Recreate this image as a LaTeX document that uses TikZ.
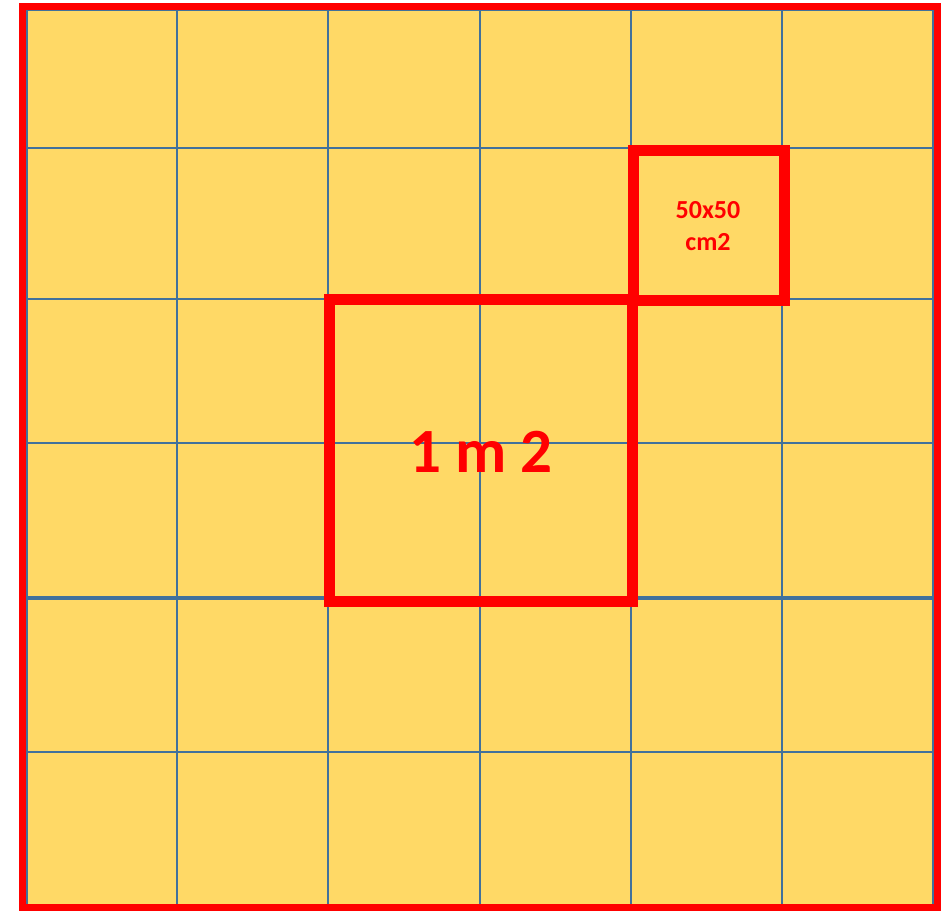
\documentclass[tikz,border=0pt]{standalone}
\usepackage{fontspec}
\setmainfont{Carlito}
\definecolor{cellfill}{HTML}{FFD966}
\definecolor{gridblue}{HTML}{41719C}
\definecolor{markred}{HTML}{FF0000}
\tikzset{
  gridline/.style={draw=gridblue, line width=2.9pt},
  outerframe/.style={draw=markred, line width=7pt},
  areabox/.style={draw=markred, line width=11pt, line join=miter},
  bigtext/.style={text=markred, font=\fontsize{63}{63}\selectfont\bfseries, inner sep=0pt, anchor=base},
  smalltext/.style={text=markred, font=\fontsize{26}{30}\selectfont\bfseries, inner sep=0pt, anchor=base}
}
\begin{document}
\begin{tikzpicture}[x=1pt,y=-1pt]
\useasboundingbox (0,0) rectangle (949,911);
% yellow area
\fill[cellfill] (27,10) rectangle (933,905);
% grid lines
\foreach \gx in {27,177,328,480,631,782,933}
  \draw[gridline] (\gx,10) -- (\gx,905);
\foreach \gy in {10,148,299,443,598,752,905}
  \draw[gridline] (27,\gy) -- (933,\gy);
\draw[draw=gridblue, line width=4.5pt] (27,598) -- (933,598);
% outer red frame
\draw[outerframe] (22,6) rectangle (937,907);
% 1 m2 square
\draw[areabox] (329,299) rectangle (632,601);
% 50x50 square
\draw[areabox] (633,150) rectangle (784,300);
% labels
\node[bigtext] (onem) at (481,472) {1 m 2};
\node[smalltext] (fifty) at (708,218) {50x50};
\node[smalltext] (cmtwo) at (708,250) {cm2};
\end{tikzpicture}
\end{document}
